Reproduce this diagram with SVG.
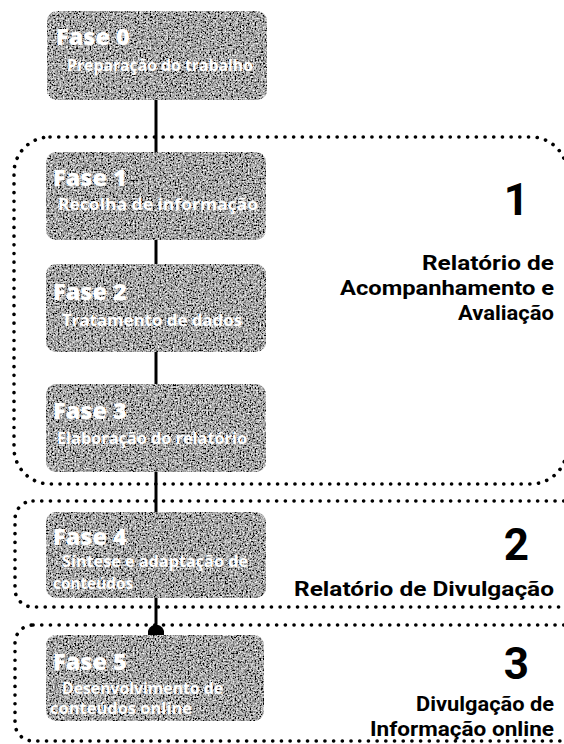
<svg xmlns="http://www.w3.org/2000/svg" width="564" height="744" viewBox="0 0 564 744">
<style>
.box{fill:#606060;}
.ph{font-family:"Open Sans","DejaVu Sans",sans-serif;font-weight:800;fill:#ffffff;font-size:23.5px;}
.pd{font-family:"Open Sans","DejaVu Sans",sans-serif;font-weight:bold;fill:#ffffff;font-size:15.5px;}
.grp{fill:none;stroke:#000;stroke-width:3.6;stroke-linecap:round;stroke-dasharray:0.1 8.6;}
.lbl{font-family:Roboto,"Liberation Sans",sans-serif;font-weight:bold;fill:#000;font-size:21px;text-anchor:end;}
.num{font-family:Roboto,"Liberation Sans",sans-serif;font-weight:bold;fill:#000;font-size:44px;text-anchor:end;}
.con{stroke:#000;stroke-width:3;fill:none;}
</style>
<defs>
<filter id="grain" x="0" y="0" width="100%" height="100%">
<feTurbulence type="fractalNoise" baseFrequency="0.6" numOctaves="2" seed="7" result="n"/>
<feColorMatrix in="n" type="saturate" values="0" result="g"/>
<feComponentTransfer in="g" result="c">
<feFuncR type="linear" slope="2.6" intercept="-0.92"/>
<feFuncG type="linear" slope="2.6" intercept="-0.92"/>
<feFuncB type="linear" slope="2.6" intercept="-0.92"/>
<feFuncA type="linear" slope="0" intercept="1"/>
</feComponentTransfer>
<feComposite in="c" in2="SourceGraphic" operator="in"/>
</filter>
<marker id="dot" viewBox="0 0 10 10" refX="5" refY="5" markerWidth="5.5" markerHeight="5.5" markerUnits="strokeWidth">
<circle cx="5" cy="5" r="5" fill="#000"/>
</marker>
</defs>
<rect width="564" height="744" fill="#fff"/>

<g id="groups">
<rect id="group1" class="grp" x="14" y="137" width="553" height="347" rx="36"/>
<rect id="group2" class="grp" x="15" y="501" width="575" height="106" rx="18"/>
<rect id="group3" class="grp" x="15" y="625" width="575" height="116" rx="18"/>
</g>

<g id="connectors">
<line class="con" x1="156" y1="100" x2="156" y2="152"/>
<line class="con" x1="156" y1="240" x2="156" y2="264"/>
<line class="con" x1="156" y1="352" x2="156" y2="384"/>
<line class="con" x1="156" y1="472" x2="156" y2="512"/>
<line class="con" x1="156" y1="598" x2="156" y2="633" marker-end="url(#dot)"/>
</g>

<g id="fase0">
<rect class="box" filter="url(#grain)" x="47" y="11" width="220" height="89" rx="10"/>
<text class="ph" x="56" y="45">Fase 0</text>
<text class="pd" x="67" y="71" textLength="186" lengthAdjust="spacingAndGlyphs">Preparação do trabalho</text>
</g>
<g id="fase1">
<rect class="box" filter="url(#grain)" x="46" y="152" width="220" height="88" rx="10"/>
<text class="ph" x="53" y="186">Fase 1</text>
<text class="pd" x="58" y="210" textLength="200" lengthAdjust="spacingAndGlyphs">Recolha de informação</text>
</g>
<g id="fase2">
<rect class="box" filter="url(#grain)" x="46" y="264" width="220" height="88" rx="10"/>
<text class="ph" x="53" y="300">Fase 2</text>
<text class="pd" x="62" y="326" textLength="180" lengthAdjust="spacingAndGlyphs">Tratamento de dados</text>
</g>
<g id="fase3">
<rect class="box" filter="url(#grain)" x="46" y="384" width="220" height="88" rx="10"/>
<text class="ph" x="53" y="419">Fase 3</text>
<text class="pd" x="57" y="444" textLength="190" lengthAdjust="spacingAndGlyphs">Elaboração do relatório</text>
</g>
<g id="fase4">
<rect class="box" filter="url(#grain)" x="46" y="512" width="220" height="86" rx="10"/>
<text class="ph" x="53" y="545">Fase 4</text>
<text class="pd" x="62" y="567" textLength="186" lengthAdjust="spacingAndGlyphs">Síntese e adaptação de</text>
<text class="pd" x="53" y="589" textLength="80" lengthAdjust="spacingAndGlyphs">conteúdos</text>
</g>
<g id="fase5">
<rect class="box" filter="url(#grain)" x="46" y="635" width="218" height="86" rx="10"/>
<text class="ph" x="53" y="670">Fase 5</text>
<text class="pd" x="62" y="694" textLength="161" lengthAdjust="spacingAndGlyphs">Desenvolvimento de</text>
<text class="pd" x="50" y="714" textLength="142" lengthAdjust="spacingAndGlyphs">conteúdos online</text>
</g>

<g id="label1">
<text class="num" x="529" y="215">1</text>
<text class="lbl" x="554" y="270" textLength="132" lengthAdjust="spacingAndGlyphs">Relatório de</text>
<text class="lbl" x="554" y="295" textLength="214" lengthAdjust="spacingAndGlyphs">Acompanhamento e</text>
<text class="lbl" x="554" y="320" textLength="96" lengthAdjust="spacingAndGlyphs">Avaliação</text>
</g>
<g id="label2">
<text class="num" x="529" y="560">2</text>
<text class="lbl" x="554" y="596" textLength="260" lengthAdjust="spacingAndGlyphs">Relatório de Divulgação</text>
</g>
<g id="label3">
<text class="num" x="529" y="679">3</text>
<text class="lbl" x="554" y="711" textLength="138" lengthAdjust="spacingAndGlyphs">Divulgação de</text>
<text class="lbl" x="554" y="736" textLength="184" lengthAdjust="spacingAndGlyphs">Informação online</text>
</g>
</svg>
